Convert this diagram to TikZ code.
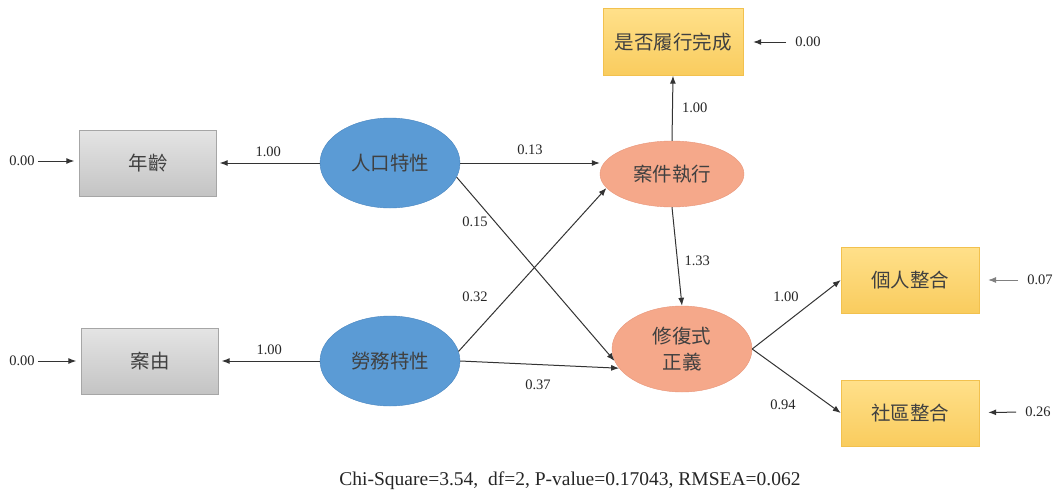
\documentclass[tikz,border=0pt]{standalone}
\usepackage{fontspec}
\setmainfont{Liberation Serif}
\newfontfamily\cjk{Noto Sans CJK TC}
\usetikzlibrary{shapes.geometric,arrows.meta}
\definecolor{grayedge}{HTML}{A6A6A6}
\definecolor{graytop}{HTML}{E4E4E4}
\definecolor{graybot}{HTML}{C4C4C4}
\definecolor{yedge}{HTML}{F2C14E}
\definecolor{ytop}{HTML}{FFE08A}
\definecolor{ybot}{HTML}{F9CC5E}
\definecolor{bfill}{HTML}{5B9BD5}
\definecolor{bedge}{HTML}{4A86C0}
\definecolor{ofill}{HTML}{F5A88A}
\definecolor{oedge}{HTML}{E8967A}
\definecolor{txt}{HTML}{404040}
\begin{document}
\begin{tikzpicture}[x=1pt,y=-1pt,
  graybox/.style={rectangle,draw=grayedge,top color=graytop,bottom color=graybot,minimum width=137pt,minimum height=66pt,inner sep=0pt,font=\cjk\fontsize{19.5}{22}\selectfont,text=txt},
  yellowbox/.style={rectangle,draw=yedge,top color=ytop,bottom color=ybot,minimum width=138pt,minimum height=66pt,inner sep=0pt,font=\cjk\fontsize{19.5}{22}\selectfont,text=txt},
  blueell/.style={ellipse,draw=bedge,fill=bfill,minimum width=140pt,minimum height=90pt,inner sep=0pt,font=\cjk\fontsize{19.5}{22}\selectfont,text=txt},
  orangeell/.style={ellipse,draw=oedge,fill=ofill,inner sep=0pt,font=\cjk\fontsize{19.5}{26}\selectfont,text=txt,align=center},
  lbl/.style={font=\fontsize{14.5}{16}\selectfont,text=black!85,inner sep=1pt},
  arr/.style={-{Latex[length=8pt,width=6pt]},draw=black!80,line width=1pt}
]
\useasboundingbox (0,0) rectangle (1058,493);
% nodes
\node[graybox] (age) at (148,163) {年齡};
\node[graybox] (cause) at (150,361) {案由};
\node[blueell] (demo) at (390,163) {人口特性};
\node[blueell] (labor) at (390,361) {勞務特性};
\node[orangeell,minimum width=144pt,minimum height=66pt] (exec) at (672,174) {案件執行};
\node[orangeell,minimum width=140pt,minimum height=86pt] (rj) at (682,349) {修復式\\正義};
\node[yellowbox,minimum width=140pt,minimum height=67pt] (done) at (673,42) {是否履行完成};
\node[yellowbox] (pers) at (910,280) {個人整合};
\node[yellowbox] (comm) at (910,413) {社區整合};
% error labels
\node[lbl] (e1) at (22,161) {0.00};
\node[lbl] (e2) at (22,361) {0.00};
\node[lbl] (e3) at (808,42) {0.00};
\node[lbl] (e4) at (1040,280) {0.07};
\node[lbl] (e5) at (1038,412) {0.26};
\draw[arr,shorten >=5pt,shorten <=2pt] (e1) -- (e1 -| age.west);
\draw[arr,shorten >=5pt,shorten <=2pt] (e2) -- (e2 -| cause.west);
\draw[arr,shorten >=10pt,shorten <=8pt] (e3) -- (done);
\draw[arr,draw=black!50,line width=0.7pt,shorten >=9pt,shorten <=8pt] (e4) -- (pers);
\draw[arr,shorten >=9pt,shorten <=8pt] (e5) -- (comm);
% paths
\draw[arr,shorten >=3pt] (demo.west) -- (age.east) node[lbl,midway,above=5pt] {1.00};
\draw[arr,shorten >=3pt] (labor.west) -- (cause.east) node[lbl,midway,above=5pt] {1.00};
\draw[arr] (demo.east) -- (exec.west |- demo.east) node[lbl,midway,above=7pt] {0.13};
\draw[arr] (demo.-12) -- (rj.190);
\draw[arr] (labor.8) -- (exec.192);
\draw[arr] (labor.0) -- (rj.197);
\node[lbl] (l015) at (475,222) {0.15};
\node[lbl] (l032) at (475,297) {0.32};
\node[lbl] (l037) at (538,385) {0.37};
\draw[arr] (exec.north) -- (done.south) node[lbl,midway,right=8pt] {1.00};
\draw[arr] (exec.south) -- (rj.north) node[lbl,midway,right=6pt,yshift=-4pt] {1.33};
\draw[arr] (rj.east) -- (pers.west);
\draw[arr] (rj.east) -- (comm.west);
\node[lbl] (l100b) at (786,297) {1.00};
\node[lbl] (l094) at (783,405) {0.94};
% footnote
\node[font=\fontsize{19.5}{22}\selectfont,text=black!85] (fit) at (570,481) {Chi-Square=3.54,\ \ df=2, P-value=0.17043, RMSEA=0.062};
\end{tikzpicture}
\end{document}
